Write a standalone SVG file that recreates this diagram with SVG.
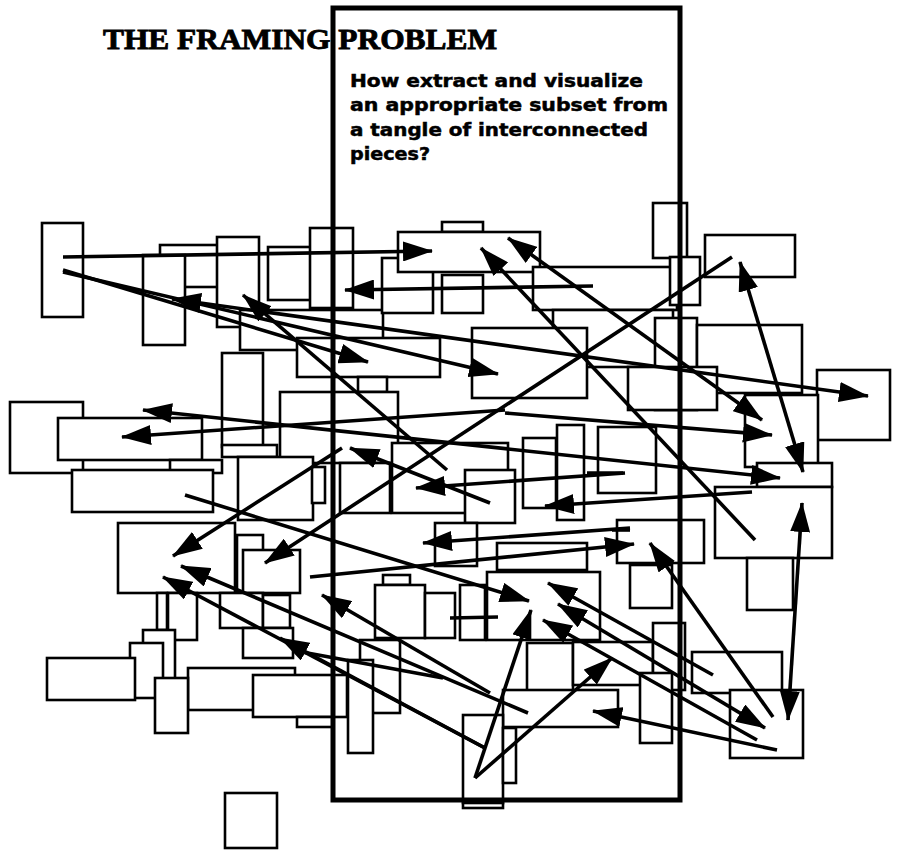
<svg xmlns="http://www.w3.org/2000/svg" width="900" height="856" viewBox="0 0 900 856">
<style>
.b{fill:#fff;stroke:#000;stroke-width:2.6}
.a{fill:none;stroke:#000;stroke-width:3.6;marker-end:url(#ah)}
.d{fill:none;stroke:#000;stroke-width:3.6;marker-start:url(#ah);marker-end:url(#ah)}
.s{fill:none;stroke:#000;stroke-width:3.6}
.frame{fill:none;stroke:#000;stroke-width:5}
.title{font-family:"Liberation Serif",serif;font-weight:bold;font-size:30px;stroke:#000;stroke-width:0.9}
.body{font-family:"DejaVu Sans","Liberation Sans",sans-serif;font-weight:bold;font-size:17px;stroke:#000;stroke-width:0.5}
</style>
<defs>
<marker id="ah" markerWidth="30" markerHeight="20" refX="29" refY="10" orient="auto-start-reverse" markerUnits="userSpaceOnUse"><path d="M0,0 L30,10 L0,20 z" fill="#000"/></marker>
</defs>
<rect width="900" height="856" fill="#fff"/>
<g id="boxes">
<rect id="b1" class="b" x="42" y="223" width="41" height="94"/>
<rect id="b2" class="b" x="160" y="245" width="60" height="42"/>
<rect id="b3" class="b" x="143" y="255" width="42" height="90"/>
<rect id="b4" class="b" x="217" y="237" width="42" height="90"/>
<rect id="b5" class="b" x="268" y="247" width="52" height="53"/>
<rect id="b6" class="b" x="310" y="228" width="43" height="80"/>
<rect id="b7" class="b" x="240" y="310" width="143" height="40"/>
<rect id="b8" class="b" x="297" y="338" width="143" height="39"/>
<rect id="b9" class="b" x="382" y="258" width="51" height="55"/>
<rect id="b10" class="b" x="442" y="222" width="41" height="10"/>
<rect id="b11" class="b" x="398" y="232" width="142" height="40"/>
<rect id="b12" class="b" x="442" y="275" width="41" height="38"/>
<rect id="b13" class="b" x="533" y="267" width="144" height="43"/>
<rect id="b14" class="b" x="553" y="310" width="120" height="57"/>
<rect id="b15" class="b" x="472" y="328" width="115" height="70"/>
<rect id="b16" class="b" x="653" y="203" width="34" height="55"/>
<rect id="b17" class="b" x="670" y="257" width="30" height="48"/>
<rect id="b18" class="b" x="705" y="235" width="90" height="42"/>
<rect id="b19" class="b" x="655" y="318" width="42" height="92"/>
<rect id="b20" class="b" x="697" y="325" width="105" height="68"/>
<rect id="b21" class="b" x="628" y="367" width="89" height="43"/>
<rect id="b22" class="b" x="817" y="370" width="73" height="70"/>
<rect id="b23" class="b" x="745" y="395" width="73" height="72"/>
<rect id="b24" class="b" x="757" y="463" width="75" height="24"/>
<rect id="b25" class="b" x="715" y="487" width="117" height="71"/>
<rect id="b26" class="b" x="747" y="558" width="46" height="52"/>
<rect id="b27" class="b" x="222" y="353" width="41" height="94"/>
<rect id="b28" class="b" x="358" y="377" width="29" height="15"/>
<rect id="b29" class="b" x="280" y="392" width="118" height="71"/>
<rect id="b30" class="b" x="10" y="402" width="73" height="71"/>
<rect id="b31" class="b" x="58" y="418" width="144" height="42"/>
<rect id="b32" class="b" x="170" y="460" width="52" height="13"/>
<rect id="b33" class="b" x="222" y="445" width="55" height="12"/>
<rect id="b34" class="b" x="72" y="470" width="141" height="42"/>
<rect id="b35" class="b" x="238" y="457" width="75" height="63"/>
<rect id="b36" class="b" x="312" y="467" width="13" height="36"/>
<rect id="b37" class="b" x="340" y="463" width="50" height="50"/>
<rect id="b38" class="b" x="392" y="443" width="116" height="70"/>
<rect id="b39" class="b" x="465" y="470" width="50" height="53"/>
<rect id="b40" class="b" x="523" y="438" width="33" height="70"/>
<rect id="b41" class="b" x="557" y="425" width="27" height="95"/>
<rect id="b42" class="b" x="598" y="427" width="58" height="66"/>
<rect id="b43" class="b" x="118" y="523" width="117" height="70"/>
<rect id="b44" class="b" x="237" y="535" width="26" height="58"/>
<rect id="b45" class="b" x="243" y="550" width="57" height="43"/>
<rect id="b46" class="b" x="435" y="523" width="42" height="43"/>
<rect id="b47" class="b" x="497" y="543" width="90" height="27"/>
<rect id="b48" class="b" x="617" y="520" width="87" height="43"/>
<rect id="b49" class="b" x="630" y="565" width="42" height="43"/>
<rect id="b50" class="b" x="383" y="575" width="27" height="10"/>
<rect id="b51" class="b" x="375" y="585" width="50" height="53"/>
<rect id="b52" class="b" x="425" y="593" width="30" height="45"/>
<rect id="b53" class="b" x="460" y="585" width="25" height="55"/>
<rect id="b54" class="b" x="487" y="572" width="113" height="68"/>
<rect id="b55" class="b" x="157" y="593" width="10" height="37"/>
<rect id="b56" class="b" x="168" y="593" width="29" height="47"/>
<rect id="b57" class="b" x="220" y="593" width="43" height="35"/>
<rect id="b58" class="b" x="263" y="595" width="27" height="33"/>
<rect id="b59" class="b" x="243" y="628" width="50" height="30"/>
<rect id="b60" class="b" x="143" y="630" width="32" height="55"/>
<rect id="b61" class="b" x="130" y="643" width="33" height="55"/>
<rect id="b62" class="b" x="47" y="658" width="88" height="42"/>
<rect id="b63" class="b" x="188" y="668" width="107" height="42"/>
<rect id="b64" class="b" x="155" y="678" width="33" height="55"/>
<rect id="b65" class="b" x="253" y="675" width="94" height="42"/>
<rect id="b66" class="b" x="297" y="717" width="36" height="10"/>
<rect id="b67" class="b" x="360" y="640" width="40" height="73"/>
<rect id="b68" class="b" x="348" y="660" width="25" height="93"/>
<rect id="b69" class="b" x="527" y="643" width="46" height="48"/>
<rect id="b70" class="b" x="573" y="642" width="80" height="43"/>
<rect id="b71" class="b" x="653" y="623" width="32" height="67"/>
<rect id="b72" class="b" x="692" y="652" width="90" height="41"/>
<rect id="b73" class="b" x="503" y="690" width="115" height="37"/>
<rect id="b74" class="b" x="640" y="673" width="32" height="70"/>
<rect id="b75" class="b" x="463" y="715" width="40" height="88"/>
<rect id="b76" class="b" x="463" y="803" width="40" height="5"/>
<rect id="b77" class="b" x="503" y="728" width="13" height="55"/>
<rect id="b78" class="b" x="730" y="690" width="73" height="68"/>
<rect id="b79" class="b" x="225" y="793" width="52" height="55"/>
</g>
<g id="frame">
<rect class="frame" x="333" y="8" width="347" height="792"/>
</g>
<g id="title">
<text class="title" x="103" y="49" textLength="394" lengthAdjust="spacingAndGlyphs">THE FRAMING PROBLEM</text>
<text class="body" x="350" y="87" textLength="293" lengthAdjust="spacingAndGlyphs">How extract and visualize</text>
<text class="body" x="350" y="111" textLength="318" lengthAdjust="spacingAndGlyphs">an appropriate subset from</text>
<text class="body" x="350" y="136" textLength="298" lengthAdjust="spacingAndGlyphs">a tangle of interconnected</text>
<text class="body" x="350" y="160" textLength="80" lengthAdjust="spacingAndGlyphs">pieces?</text>
</g>
<g id="connectors">
<line class="a" x1="63" y1="257" x2="432" y2="251"/>
<line class="a" x1="63" y1="270" x2="368" y2="362"/>
<line class="a" x1="63" y1="272" x2="498" y2="374"/>
<line class="d" x1="172" y1="299" x2="868" y2="396"/>
<line class="a" x1="447" y1="470" x2="243" y2="295"/>
<line class="a" x1="593" y1="286" x2="345" y2="290"/>
<line class="a" x1="755" y1="540" x2="481" y2="248"/>
<line class="d" x1="508" y1="238" x2="762" y2="420"/>
<line class="a" x1="732" y1="257" x2="265" y2="563"/>
<line class="d" x1="740" y1="262" x2="803" y2="472"/>
<line class="d" x1="802" y1="503" x2="788" y2="720"/>
<line class="a" x1="505" y1="413" x2="772" y2="435"/>
<line class="d" x1="143" y1="410" x2="780" y2="478"/>
<line class="a" x1="505" y1="410" x2="122" y2="437"/>
<line class="a" x1="490" y1="503" x2="350" y2="448"/>
<line class="a" x1="625" y1="473" x2="416" y2="488"/>
<line class="a" x1="752" y1="492" x2="545" y2="506"/>
<line class="a" x1="630" y1="528" x2="423" y2="543"/>
<line class="a" x1="310" y1="577" x2="634" y2="544"/>
<line class="a" x1="773" y1="717" x2="650" y2="543"/>
<line class="a" x1="342" y1="448" x2="173" y2="556"/>
<line class="a" x1="528" y1="713" x2="181" y2="566"/>
<line class="a" x1="485" y1="748" x2="163" y2="577"/>
<line class="a" x1="485" y1="748" x2="280" y2="638"/>
<line class="a" x1="185" y1="495" x2="529" y2="601"/>
<line class="a" x1="490" y1="693" x2="322" y2="595"/>
<line class="a" x1="713" y1="675" x2="548" y2="583"/>
<line class="d" x1="558" y1="604" x2="765" y2="728"/>
<line class="a" x1="757" y1="740" x2="543" y2="620"/>
<line class="a" x1="475" y1="778" x2="531" y2="610"/>
<line class="a" x1="475" y1="778" x2="612" y2="658"/>
<line class="a" x1="777" y1="750" x2="593" y2="711"/>
<line class="s" x1="587" y1="473" x2="623" y2="473"/>
<line class="s" x1="450" y1="618" x2="498" y2="617"/>
<line class="s" x1="612" y1="530" x2="630" y2="530"/>
<line class="s" x1="302" y1="652" x2="443" y2="678"/>
</g>
</svg>
